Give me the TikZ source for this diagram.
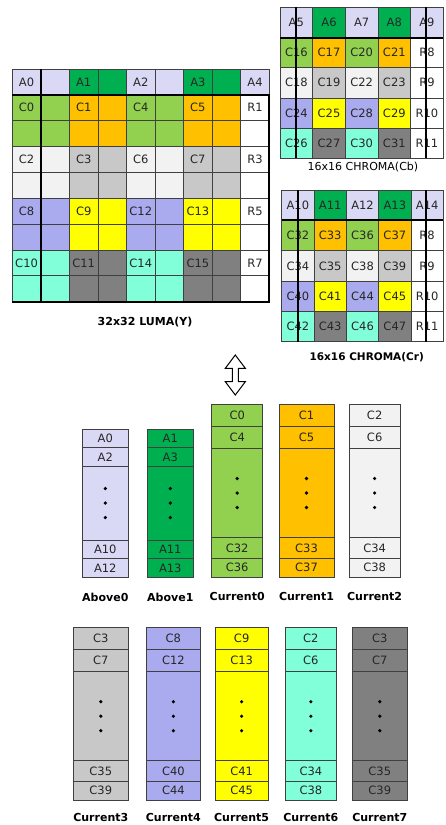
\documentclass[tikz,border=0pt]{standalone}
\usepackage{fontspec}
\setmainfont{DejaVu Sans}
\definecolor{lavL}{HTML}{D9D9F5}
\definecolor{dgreen}{HTML}{00B050}
\definecolor{lgreen}{HTML}{92D050}
\definecolor{orng}{HTML}{FFC000}
\definecolor{vlgray}{HTML}{F2F2F2}
\definecolor{lgray}{HTML}{C8C8C8}
\definecolor{lav}{HTML}{AAAAEE}
\definecolor{yel}{HTML}{FFFF00}
\definecolor{aqua}{HTML}{80FFD8}
\definecolor{dgray}{HTML}{808080}
\definecolor{txt}{HTML}{262626}
\tikzset{
  cell/.style={draw=black!75, line width=0.8pt, inner sep=0pt, outer sep=0pt, text=txt, font=\fontsize{11.5}{13}\selectfont},
  thickline/.style={line width=2pt, black},
  caption/.style={font=\bfseries\fontsize{11}{13}\selectfont, text=black, inner sep=0pt},
  plaincap/.style={font=\fontsize{11}{13}\selectfont, text=black, inner sep=0pt},
  dot/.style={fill=black},
}
\newcommand\gridrow[6]{\foreach \col/\lab [count=\c from 0] in {#6} {\node[cell, fill=\col, minimum width=#4pt, minimum height=#5pt, anchor=north west] (#1-\c) at ({#2+\c*#4},#3) {\lab};}}
\newcommand\colstack[9]{%
  \node[cell, fill=#5, minimum width=#3pt, minimum height=\ha pt, anchor=north west] (#1-1) at (#2,#4) {#6};
  \node[cell, fill=#5, minimum width=#3pt, minimum height=\hb pt, anchor=north west] (#1-2) at (#1-1.south west) {#7};
  \node[cell, fill=#5, minimum width=#3pt, minimum height=\hc pt, anchor=north west] (#1-3) at (#1-2.south west) {};
  \node[cell, fill=#5, minimum width=#3pt, minimum height=\hd pt, anchor=north west] (#1-4) at (#1-3.south west) {#8};
  \node[cell, fill=#5, minimum width=#3pt, minimum height=\he pt, anchor=north west] (#1-5) at (#1-4.south west) {#9};
  \fill[dot] (#1-3.center) circle (1.8pt) ([yshift=14.5pt]#1-3.center) circle (1.8pt) ([yshift=-14.5pt]#1-3.center) circle (1.8pt);
}
\begin{document}
\begin{tikzpicture}[x=1pt,y=-1pt]
\useasboundingbox (0,0) rectangle (445,825);
% ---------- 32x32 luma ----------
\gridrow{L0}{12.3}{69}{28.55}{25.85}{lavL/A0,lavL/{},dgreen/A1,dgreen/{},lavL/A2,lavL/{},dgreen/A3,dgreen/{},lavL/A4}
\gridrow{L1}{12.3}{94.85}{28.55}{25.85}{lgreen/C0,lgreen/{},orng/C1,orng/{},lgreen/C4,lgreen/{},orng/C5,orng/{},white/R1}
\gridrow{L2}{12.3}{120.7}{28.55}{25.85}{lgreen/{},lgreen/{},orng/{},orng/{},lgreen/{},lgreen/{},orng/{},orng/{},white/{}}
\gridrow{L3}{12.3}{146.55}{28.55}{25.85}{vlgray/C2,vlgray/{},lgray/C3,lgray/{},vlgray/C6,vlgray/{},lgray/C7,lgray/{},white/R3}
\gridrow{L4}{12.3}{172.4}{28.55}{25.85}{vlgray/{},vlgray/{},lgray/{},lgray/{},vlgray/{},vlgray/{},lgray/{},lgray/{},white/{}}
\gridrow{L5}{12.3}{198.25}{28.55}{25.85}{lav/C8,lav/{},yel/C9,yel/{},lav/C12,lav/{},yel/C13,yel/{},white/R5}
\gridrow{L6}{12.3}{224.1}{28.55}{25.85}{lav/{},lav/{},yel/{},yel/{},lav/{},lav/{},yel/{},yel/{},white/{}}
\gridrow{L7}{12.3}{249.95}{28.55}{25.85}{aqua/C10,aqua/{},dgray/C11,dgray/{},aqua/C14,aqua/{},dgray/C15,dgray/{},white/R7}
\gridrow{L8}{12.3}{275.8}{28.55}{25.85}{aqua/{},aqua/{},dgray/{},dgray/{},aqua/{},aqua/{},dgray/{},dgray/{},white/{}}
\draw[thickline] (L0-0.south west) -- (L0-8.south east) -- (L8-8.south east) -- (L8-0.south west);
\draw[thickline] (L0-1.north west) -- (L8-1.south west);
\node[caption] (lumacap) at (145,321.7) {32x32 LUMA(Y)};
% ---------- 16x16 chroma Cb ----------
\gridrow{B0}{280}{7.3}{32.66}{30.2}{lavL/A5,dgreen/A6,lavL/A7,dgreen/A8,lavL/A9}
\gridrow{B1}{280}{37.5}{32.66}{30.2}{lgreen/C16,orng/C17,lgreen/C20,orng/C21,white/R8}
\gridrow{B2}{280}{67.7}{32.66}{30.2}{vlgray/C18,lgray/C19,vlgray/C22,lgray/C23,white/R9}
\gridrow{B3}{280}{97.9}{32.66}{30.2}{lav/C24,yel/C25,lav/C28,yel/C29,white/R10}
\gridrow{B4}{280}{128.1}{32.66}{30.2}{aqua/C26,dgray/C27,aqua/C30,dgray/C31,white/R11}
\draw[thickline] (B0-0.south west) -- (B0-4.south east);
\draw[thickline] (B0-0.north) -- (B4-0.south);
\draw[thickline] ([xshift=-1.3pt]B0-4.north) -- ([xshift=-1.3pt]B4-4.south);
\node[plaincap] (cbcap) at (363,166.7) {16x16 CHROMA(Cb)};
% ---------- 16x16 chroma Cr ----------
\gridrow{R0}{281.7}{190}{32.32}{30.34}{lavL/A10,dgreen/A11,lavL/A12,dgreen/A13,lavL/A14}
\gridrow{R1}{281.7}{220.34}{32.32}{30.34}{lgreen/C32,orng/C33,lgreen/C36,orng/C37,white/R8}
\gridrow{R2}{281.7}{250.68}{32.32}{30.34}{vlgray/C34,lgray/C35,vlgray/C38,lgray/C39,white/R9}
\gridrow{R3}{281.7}{281.02}{32.32}{30.34}{lav/C40,yel/C41,lav/C44,yel/C45,white/R10}
\gridrow{R4}{281.7}{311.36}{32.32}{30.34}{aqua/C42,dgray/C43,aqua/C46,dgray/C47,white/R11}
\draw[thickline] (R0-0.south west) -- (R0-4.south east);
\draw[thickline] (R0-0.north) -- (R4-0.south);
\draw[thickline] ([xshift=-1pt]R0-4.north) -- ([xshift=-1pt]R4-4.south);
\node[caption, font=\bfseries\fontsize{10.5}{12}\selectfont] (crcap) at (366.7,357) {16x16 CHROMA(Cr)};
% ---------- double arrow ----------
\draw[line width=1pt, fill=white, line join=miter] (235.3,355) -- (245.3,368.3) -- (238.3,368.3) -- (238.3,381.7) -- (245.3,381.7) -- (235.3,395) -- (225.3,381.7) -- (232.3,381.7) -- (232.3,368.3) -- (225.3,368.3) -- cycle;
% ---------- row 1 of buffers ----------
\def\ha{18.7}\def\hb{18.3}\def\hc{74}\def\hd{18.3}\def\he{19.3}
\colstack{ab0}{82.3}{46}{429}{lavL}{A0}{A2}{A10}{A12}
\colstack{ab1}{147.3}{46}{429}{dgreen}{A1}{A3}{A11}{A13}
\def\ha{21.7}\def\hb{22.3}\def\hc{89.4}\def\hd{20.6}\def\he{19}
\colstack{cu0}{211.7}{51}{404.3}{lgreen}{C0}{C4}{C32}{C36}
\colstack{cu1}{279}{55}{404.3}{orng}{C1}{C5}{C33}{C37}
\colstack{cu2}{349.3}{50.7}{404.3}{vlgray}{C2}{C6}{C34}{C38}
\node[caption] (ab0cap) at ([yshift=-19.4pt]ab0-5.south) {Above0};
\node[caption] (ab1cap) at ([yshift=-19.4pt]ab1-5.south) {Above1};
\node[caption] (cu0cap) at ([yshift=-19.4pt]cu0-5.south) {Current0};
\node[caption] (cu1cap) at ([yshift=-19.4pt]cu1-5.south) {Current1};
\node[caption] (cu2cap) at ([yshift=-19.4pt]cu2-5.south) {Current2};
% ---------- row 2 of buffers ----------
\def\ha{21.7}\def\hb{22.7}\def\hc{89}\def\hd{20.3}\def\he{19}
\colstack{cu3}{73.3}{55}{627.3}{lgray}{C3}{C7}{C35}{C39}
\colstack{cu4}{146.7}{53.3}{627.3}{lav}{C8}{C12}{C40}{C44}
\colstack{cu5}{215}{53.3}{627.3}{yel}{C9}{C13}{C41}{C45}
\colstack{cu6}{285.7}{50.3}{627.3}{aqua}{C2}{C6}{C34}{C38}
\colstack{cu7}{352.3}{55}{627.3}{dgray}{C3}{C7}{C35}{C39}
\node[caption] (cu3cap) at ([yshift=-17.3pt]cu3-5.south) {Current3};
\node[caption] (cu4cap) at ([yshift=-17.3pt]cu4-5.south) {Current4};
\node[caption] (cu5cap) at ([yshift=-17.3pt]cu5-5.south) {Current5};
\node[caption] (cu6cap) at ([yshift=-17.3pt]cu6-5.south) {Current6};
\node[caption] (cu7cap) at ([yshift=-17.3pt]cu7-5.south) {Current7};
\end{tikzpicture}
\end{document}
